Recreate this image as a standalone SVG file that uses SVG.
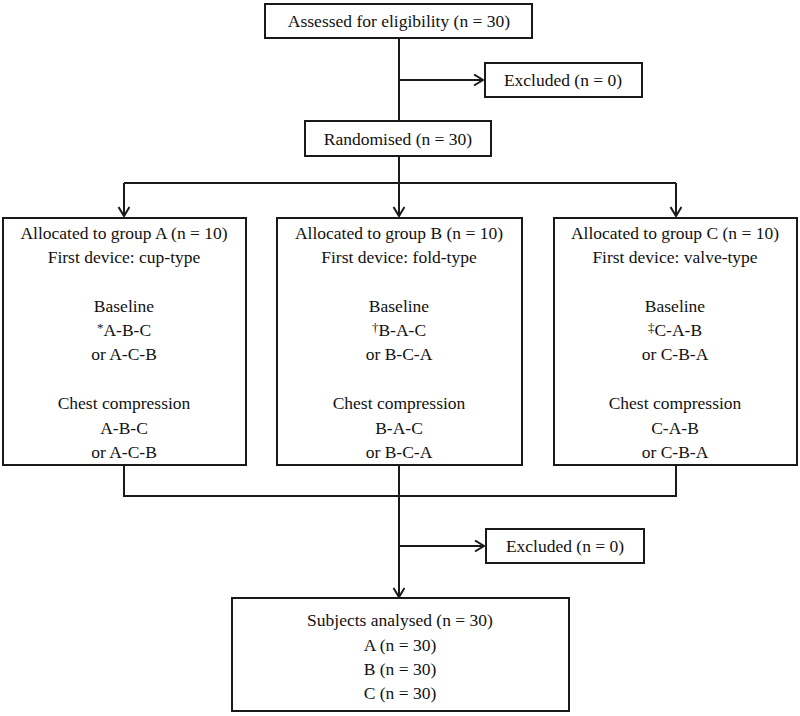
<svg xmlns="http://www.w3.org/2000/svg" width="800" height="716" viewBox="0 0 800 716">
<defs>
<style>
.box{fill:#fff;stroke:#1a1a1a;stroke-width:2}
.t{font-family:"Liberation Serif","Times New Roman",serif;font-size:17.5px;fill:#111;text-anchor:middle;dominant-baseline:central}
.c{fill:none;stroke:#1a1a1a;stroke-width:2}
.sup{font-size:13px}
</style>
<marker id="ah" markerUnits="userSpaceOnUse" markerWidth="14" markerHeight="14" refX="10" refY="6" orient="auto">
<path d="M1,0.5 L10,6 L1,11.5" fill="none" stroke="#1a1a1a" stroke-width="2"/>
</marker>
</defs>
<rect width="800" height="716" fill="#fff"/>
<g id="connectors">
<path class="c" d="M399,38 V121"/>
<path class="c" d="M399,80 H483" marker-end="url(#ah)"/>
<path class="c" d="M399,156 V183"/>
<path class="c" d="M124,183 H676"/>
<path class="c" d="M124,183 V216" marker-end="url(#ah)"/>
<path class="c" d="M399,183 V216" marker-end="url(#ah)"/>
<path class="c" d="M676,183 V216" marker-end="url(#ah)"/>
<path class="c" d="M124,465 V496 H676 V465"/>
<path class="c" d="M399,465 V597" marker-end="url(#ah)"/>
<path class="c" d="M399,546 H484" marker-end="url(#ah)"/>
</g>
<g id="assessed">
<rect class="box" x="265" y="4" width="267" height="34"/>
<text class="t" x="399" y="21">Assessed for eligibility (n = 30)</text>
</g>
<g id="excluded1">
<rect class="box" x="485" y="63" width="157" height="34"/>
<text class="t" x="563" y="80">Excluded (n = 0)</text>
</g>
<g id="randomised">
<rect class="box" x="305" y="121" width="186" height="35"/>
<text class="t" x="398" y="139">Randomised (n = 30)</text>
</g>
<g id="groupA">
<rect class="box" x="3" y="218" width="243" height="247"/>
<text class="t" x="124" y="233">Allocated to group A (n = 10)</text>
<text class="t" x="124" y="257">First device: cup-type</text>
<text class="t" x="124" y="306">Baseline</text>
<text class="t" x="124" y="330"><tspan class="sup" dy="-3">*</tspan><tspan dy="3">A-B-C</tspan></text>
<text class="t" x="124" y="354">or A-C-B</text>
<text class="t" x="124" y="403">Chest compression</text>
<text class="t" x="124" y="428">A-B-C</text>
<text class="t" x="124" y="452">or A-C-B</text>
</g>
<g id="groupB">
<rect class="box" x="277" y="218" width="245" height="247"/>
<text class="t" x="399" y="233">Allocated to group B (n = 10)</text>
<text class="t" x="399" y="257">First device: fold-type</text>
<text class="t" x="399" y="306">Baseline</text>
<text class="t" x="399" y="330"><tspan class="sup" dy="-3">†</tspan><tspan dy="3">B-A-C</tspan></text>
<text class="t" x="399" y="354">or B-C-A</text>
<text class="t" x="399" y="403">Chest compression</text>
<text class="t" x="399" y="428">B-A-C</text>
<text class="t" x="399" y="452">or B-C-A</text>
</g>
<g id="groupC">
<rect class="box" x="554" y="218" width="243" height="247"/>
<text class="t" x="675" y="233">Allocated to group C (n = 10)</text>
<text class="t" x="675" y="257">First device: valve-type</text>
<text class="t" x="675" y="306">Baseline</text>
<text class="t" x="675" y="330"><tspan class="sup" dy="-3">‡</tspan><tspan dy="3">C-A-B</tspan></text>
<text class="t" x="675" y="354">or C-B-A</text>
<text class="t" x="675" y="403">Chest compression</text>
<text class="t" x="675" y="428">C-A-B</text>
<text class="t" x="675" y="452">or C-B-A</text>
</g>
<g id="excluded2">
<rect class="box" x="486" y="529" width="158" height="34"/>
<text class="t" x="565" y="546">Excluded (n = 0)</text>
</g>
<g id="analysed">
<rect class="box" x="232" y="598" width="337" height="113"/>
<text class="t" x="400" y="620">Subjects analysed (n = 30)</text>
<text class="t" x="400" y="645">A (n = 30)</text>
<text class="t" x="400" y="669">B (n = 30)</text>
<text class="t" x="400" y="693">C (n = 30)</text>
</g>
</svg>
